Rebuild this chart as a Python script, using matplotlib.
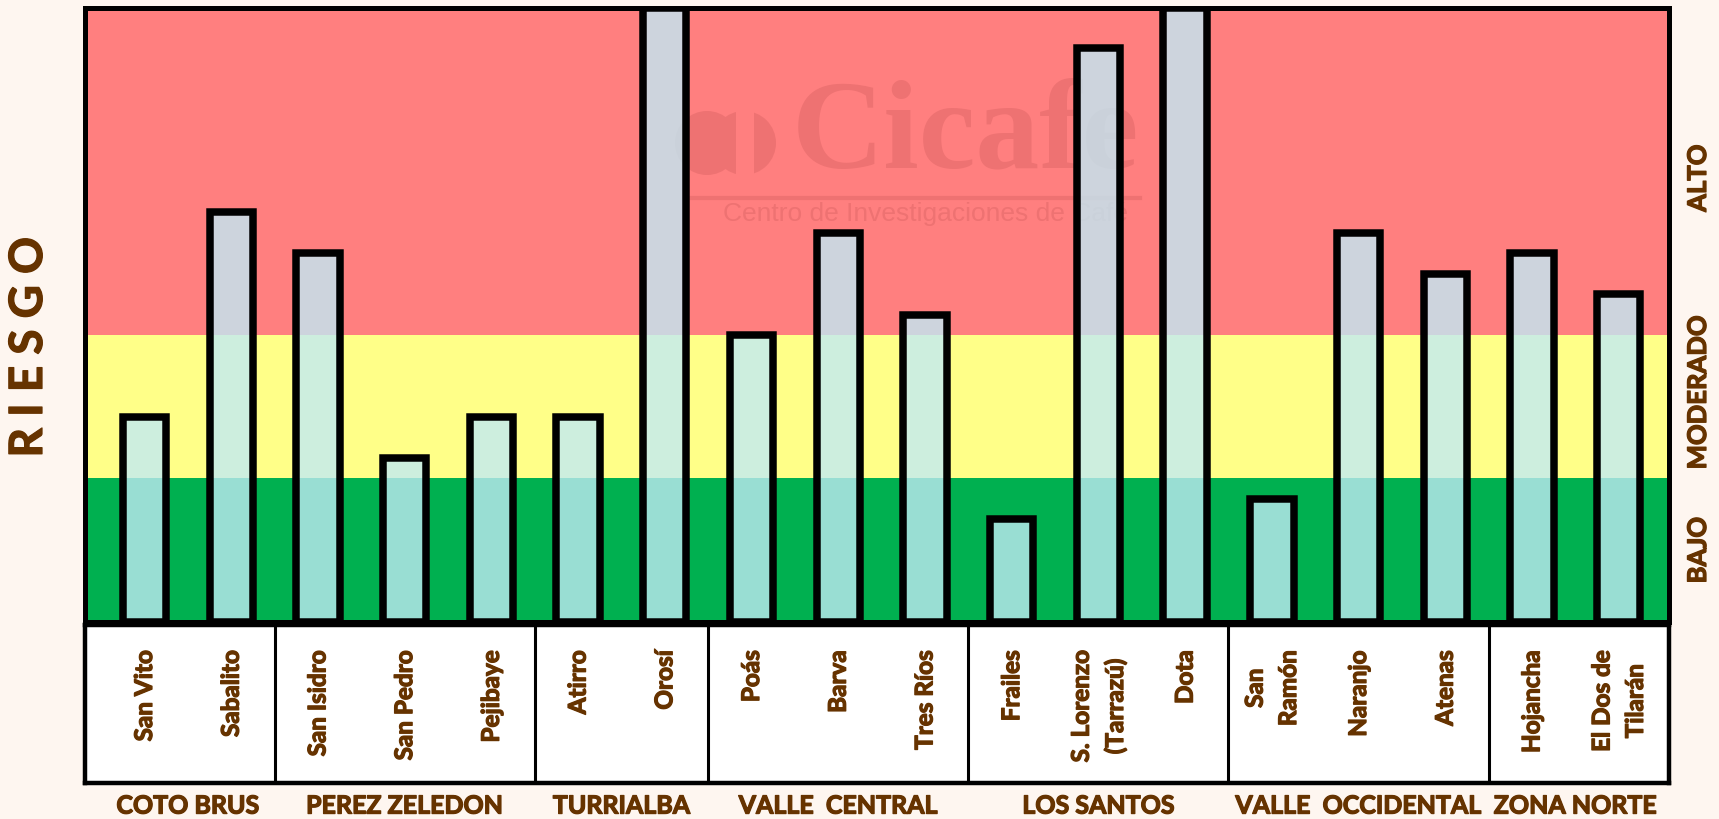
import matplotlib
matplotlib.use("Agg")
import matplotlib.pyplot as plt
import matplotlib.patheffects as pe
from matplotlib.patches import Ellipse, Wedge

# ---------------- data ----------------
regions = ["COTO BRUS", "PEREZ ZELEDON", "TURRIALBA", "VALLE  CENTRAL",
           "LOS SANTOS", "VALLE  OCCIDENTAL", "ZONA NORTE"]
region_sizes = [2, 3, 2, 3, 3, 3, 2]
sites = ["San Vito", "Sabalito", "San Isidro", "San Pedro", "Pejibaye",
         "Atirro", "Orosí", "Poás", "Barva", "Tres Ríos", "Frailes",
         "S. Lorenzo\n(Tarrazú)", "Dota", "San\nRamón", "Naranjo", "Atenas",
         "Hojancha", "El Dos de\nTilarán"]
risk = [10, 20, 18, 8, 10, 10, 30, 14, 19, 15, 5, 28, 30, 6, 19, 17, 18, 16]
zone_names = ["BAJO", "MODERADO", "ALTO"]
zone_limits = [0, 7, 14, 30]
zone_colors = ["#00B050", "#FFFF88", "#FF7F7F"]

BROWN = "#663300"
BG = "#FEF6F0"
WM = "#EE7272"
FONT = ["Lato", "DejaVu Sans"]
THICK = [pe.withStroke(linewidth=0.9, foreground=BROWN)]

W, H = 1719, 819
fig = plt.figure(figsize=(W / 100, H / 100), dpi=100, facecolor=BG)

def fx(px):
    return px / W

def fy(py):
    return 1 - py / H

# main axes: x 85..1669, y 7.5..621.5
left, right, top, bottom = 85, 1669, 7.5, 621.5
AW, AH = right - left, bottom - top
ax = fig.add_axes([fx(left), fy(bottom), fx(AW), AH / H])
n = len(sites)
xs = list(range(n))
xlim = (-0.686, 17.58)
ax.set_xlim(*xlim)
ax.set_ylim(zone_limits[0], zone_limits[-1])

for lo, hi, c in zip(zone_limits[:-1], zone_limits[1:], zone_colors):
    ax.axhspan(lo, hi, color=c, zorder=0, lw=0)

def ax_pt(px, py):
    return ((px - left) / AW, (bottom - py) / AH)

# watermark (logo)
cx, cy = ax_pt(965, 137)
ax.text(cx, cy, "Cicafe", transform=ax.transAxes, fontsize=92,
        family=["Liberation Serif"], weight="bold", color=WM,
        ha="center", va="center", zorder=1)
sx, sy = ax_pt(925, 214)
ax.text(sx, sy, "Centro de Investigaciones de Café", transform=ax.transAxes,
        fontsize=19, family=["Liberation Sans"], color=WM,
        ha="center", va="center", zorder=1)
l0 = ax_pt(690, 198)
l1 = ax_pt(1140, 198)
ax.plot([l0[0], l1[0]], [l0[1], l1[1]], transform=ax.transAxes, color=WM,
        lw=3, zorder=1)
e1 = ax_pt(707, 143)
ax.add_patch(Ellipse(e1, 64 / AW, 64 / AH, transform=ax.transAxes,
                     color=WM, zorder=1, lw=0))
e2 = ax_pt(744, 143)
ax.add_patch(Ellipse(e2, 64 / AW, 64 / AH, transform=ax.transAxes,
                     color=WM, zorder=1, lw=0))
# cut the second disc into a "D" shape
cut = ax_pt(742, 176)
ax.add_patch(plt.Rectangle(cut, 12 / AW, 66 / AH, transform=ax.transAxes,
                           color=zone_colors[2], zorder=1, lw=0))
g0 = ax_pt(739, 110)
ax.add_patch(plt.Rectangle(ax_pt(736, 176), 6 / AW, 66 / AH,
                           transform=ax.transAxes, color=zone_colors[2],
                           zorder=1, lw=0))

ax.bar(xs, risk, width=0.50, bottom=0,
       facecolor=(193 / 255, 234 / 255, 245 / 255, 0.8),
       edgecolor="black", linewidth=5.4, zorder=3)

ax.set_xticks([])
ax.set_yticks([])
for s in ax.spines.values():
    s.set_linewidth(3.6)
    s.set_color("black")
    s.set_zorder(5)

# zone labels on the right
zone_label_y = [550, 392, 178]
for py, name in zip(zone_label_y, zone_names):
    fig.text(fx(1698), fy(py), name, rotation=90, ha="center", va="center",
             fontsize=18.5, weight="bold", color=BROWN, family=FONT,
             path_effects=THICK)

# RIESGO on left
fig.text(fx(29), fy(347), "R I E S G O", rotation=90, ha="center", va="center",
         fontsize=33, weight="bold", color=BROWN, family=FONT,
         path_effects=THICK)

# label box axes: y 625..783
lt, lb = 625, 783
axl = fig.add_axes([fx(left), fy(lb), fx(AW), (lb - lt) / H])
axl.set_facecolor("white")
axl.set_xlim(*xlim)
axl.set_ylim(0, 1)
axl.set_xticks([])
axl.set_yticks([])
for s in axl.spines.values():
    s.set_linewidth(3.2)
    s.set_color("black")

for x, name in zip(xs, sites):
    axl.text(x, 0.84, name, rotation=90, ha="center", va="top",
             multialignment="center", fontsize=17.5, weight="bold",
             color=BROWN, family=FONT, linespacing=1.55, path_effects=THICK)

start = 0
for name, size in zip(regions, region_sizes):
    end = start + size
    if end < n:
        axl.axvline(end - 0.5, color="black", lw=2.2)
    center = (start + end - 1) / 2
    axl.text(center, -0.146, name, ha="center", va="center", fontsize=18,
             weight="bold", color=BROWN, family=FONT, clip_on=False,
             path_effects=THICK)
    start = end

fig.savefig("out.png", dpi=100, facecolor=BG)
